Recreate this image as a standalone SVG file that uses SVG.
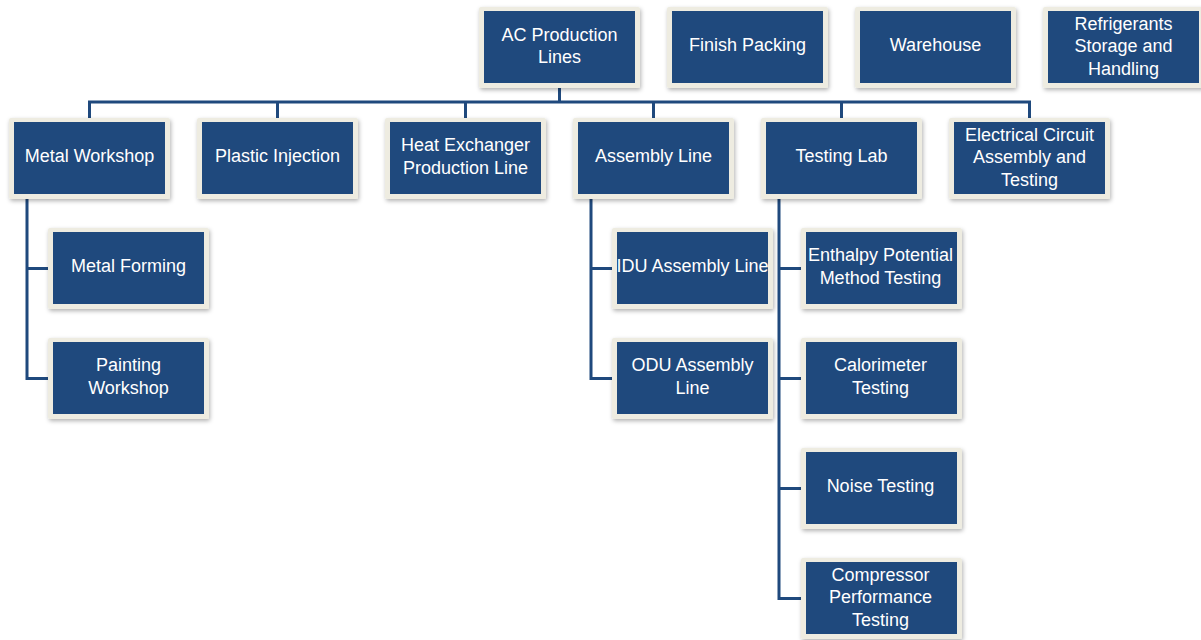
<svg xmlns="http://www.w3.org/2000/svg" width="1201" height="640" viewBox="0 0 1201 640">
<style>
.o{fill:#EEECE1;filter:url(#sh)}
.i{fill:#1F497D}
.t{fill:#FFFFFF;font-family:"Liberation Sans",Arial,sans-serif;font-size:18px;text-anchor:middle}
.c{fill:none;stroke:#1F497D;stroke-width:3;stroke-linejoin:miter}
</style>
<defs>
<filter id="sh" x="-10%" y="-10%" width="125%" height="135%">
<feDropShadow dx="1" dy="2" stdDeviation="2" flood-color="#000" flood-opacity="0.3"/>
</filter>
</defs>
<rect width="1201" height="640" fill="#FFFFFF"/>
<g id="connectors">
<path class="c" d="M559.5 88V102M89.5 118V102H1029.5V118M277.5 102V118M465.5 102V118M653.5 102V118M841.5 102V118"/>
<path class="c" d="M27 199V378.5H48M27 268.5H48"/>
<path class="c" d="M591 199V378.5H612M591 268.5H612"/>
<path class="c" d="M779 199V598.5H801M779 268.5H801M779 378.5H801M779 488.5H801"/>
</g>
<g id="ac-production-lines"><rect class="o" x="479" y="7" width="161" height="81" rx="2"/><rect class="i" x="484" y="11" width="151" height="72"/><text class="t" x="559.5" y="40.5">AC Production</text><text class="t" x="559.5" y="63">Lines</text></g>
<g id="finish-packing"><rect class="o" x="667" y="7" width="161" height="81" rx="2"/><rect class="i" x="672" y="11" width="151" height="72"/><text class="t" x="747.5" y="51">Finish Packing</text></g>
<g id="warehouse"><rect class="o" x="855" y="7" width="161" height="81" rx="2"/><rect class="i" x="860" y="11" width="151" height="72"/><text class="t" x="935.5" y="51">Warehouse</text></g>
<g id="refrigerants"><rect class="o" x="1043" y="7" width="161" height="81" rx="2"/><rect class="i" x="1048" y="11" width="151" height="72"/><text class="t" x="1123.5" y="29.5">Refrigerants</text><text class="t" x="1123.5" y="52">Storage and</text><text class="t" x="1123.5" y="74.5">Handling</text></g>
<g id="metal-workshop"><rect class="o" x="9" y="118" width="161" height="81" rx="2"/><rect class="i" x="14" y="122" width="151" height="72"/><text class="t" x="89.5" y="162">Metal Workshop</text></g>
<g id="plastic-injection"><rect class="o" x="197" y="118" width="161" height="81" rx="2"/><rect class="i" x="202" y="122" width="151" height="72"/><text class="t" x="277.5" y="162">Plastic Injection</text></g>
<g id="heat-exchanger"><rect class="o" x="385" y="118" width="161" height="81" rx="2"/><rect class="i" x="390" y="122" width="151" height="72"/><text class="t" x="465.5" y="151">Heat Exchanger</text><text class="t" x="465.5" y="173.5">Production Line</text></g>
<g id="assembly-line"><rect class="o" x="573" y="118" width="161" height="81" rx="2"/><rect class="i" x="578" y="122" width="151" height="72"/><text class="t" x="653.5" y="162">Assembly Line</text></g>
<g id="testing-lab"><rect class="o" x="761" y="118" width="161" height="81" rx="2"/><rect class="i" x="766" y="122" width="151" height="72"/><text class="t" x="841.5" y="162">Testing Lab</text></g>
<g id="electrical-circuit"><rect class="o" x="949" y="118" width="161" height="81" rx="2"/><rect class="i" x="954" y="122" width="151" height="72"/><text class="t" x="1029.5" y="140.5">Electrical Circuit</text><text class="t" x="1029.5" y="163">Assembly and</text><text class="t" x="1029.5" y="185.5">Testing</text></g>
<g id="metal-forming"><rect class="o" x="48" y="228" width="161" height="81" rx="2"/><rect class="i" x="53" y="232" width="151" height="72"/><text class="t" x="128.5" y="272">Metal Forming</text></g>
<g id="painting-workshop"><rect class="o" x="48" y="338" width="161" height="81" rx="2"/><rect class="i" x="53" y="342" width="151" height="72"/><text class="t" x="128.5" y="371">Painting</text><text class="t" x="128.5" y="393.5">Workshop</text></g>
<g id="idu-assembly-line"><rect class="o" x="612" y="228" width="161" height="81" rx="2"/><rect class="i" x="617" y="232" width="151" height="72"/><text class="t" x="692.5" y="272">IDU Assembly Line</text></g>
<g id="odu-assembly-line"><rect class="o" x="612" y="338" width="161" height="81" rx="2"/><rect class="i" x="617" y="342" width="151" height="72"/><text class="t" x="692.5" y="371">ODU Assembly</text><text class="t" x="692.5" y="393.5">Line</text></g>
<g id="enthalpy-testing"><rect class="o" x="801" y="228" width="161" height="81" rx="2"/><rect class="i" x="806" y="232" width="151" height="72"/><text class="t" x="880.5" y="261">Enthalpy Potential</text><text class="t" x="880.5" y="283.5">Method Testing</text></g>
<g id="calorimeter-testing"><rect class="o" x="801" y="338" width="161" height="81" rx="2"/><rect class="i" x="806" y="342" width="151" height="72"/><text class="t" x="880.5" y="371">Calorimeter</text><text class="t" x="880.5" y="393.5">Testing</text></g>
<g id="noise-testing"><rect class="o" x="801" y="448" width="161" height="81" rx="2"/><rect class="i" x="806" y="452" width="151" height="72"/><text class="t" x="880.5" y="492">Noise Testing</text></g>
<g id="compressor-testing"><rect class="o" x="801" y="558" width="161" height="81" rx="2"/><rect class="i" x="806" y="562" width="151" height="72"/><text class="t" x="880.5" y="580.5">Compressor</text><text class="t" x="880.5" y="603">Performance</text><text class="t" x="880.5" y="625.5">Testing</text></g>
</svg>
